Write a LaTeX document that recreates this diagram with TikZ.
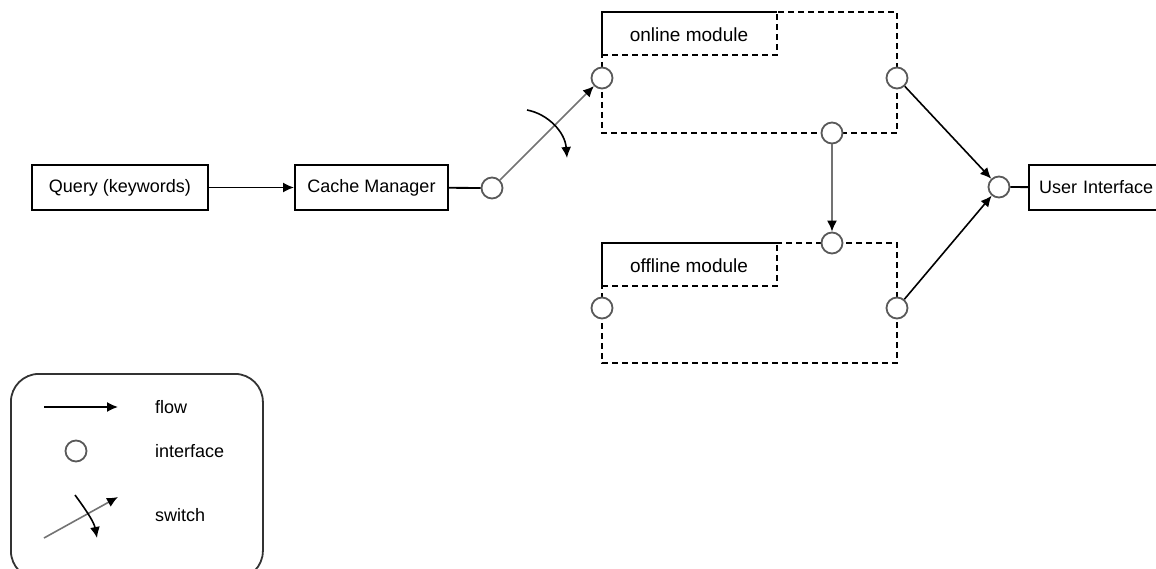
\documentclass[tikz,border=0pt]{standalone}
\usepackage{fontspec}
\setmainfont{Liberation Sans}
\usetikzlibrary{arrows.meta}

\begin{document}
\begin{tikzpicture}[x=1pt, y=-1pt,
  lbl/.style={font=\fontsize{18}{20}\selectfont},
  modlbl/.style={font=\fontsize{19}{21}\selectfont},
  box/.style={lbl, draw, line width=2pt, minimum height=45pt, inner sep=0pt},
  port/.style={circle, draw=black!65, fill=white, line width=1.8pt, minimum size=21pt, inner sep=0pt},
  flow/.style={-{Latex[length=11pt, width=10pt, color=black]}, line width=1.6pt},
  grayflow/.style={flow, draw=black!55},
  dashbox/.style={dash pattern=on 6pt off 4pt, line width=1.5pt},
  solidedge/.style={line width=1.8pt},
  legendtext/.style={lbl, anchor=west, inner sep=0pt}
]
\useasboundingbox (0,0) rectangle (1156,569);
\clip (0,0) rectangle (1156,569);

% main chain
\node[box, minimum width=176pt] (query) at (120,187.5) {Query (keywords)};
\node[box, minimum width=153pt] (cache) at (371.5,187.5) {Cache Manager};
\node[port] (cport) at (492,188) {};

% online module
\draw[dashbox] (602,12) rectangle (897,133);
\draw[dashbox] (602,55) -- (777,55) -- (777,12);
\draw[solidedge] (602,55) -- (602,12) -- (777,12);
\node[modlbl] (online) at (689,35) {online module};
\node[port] (onin) at (602,78) {};
\node[port] (onout) at (897,78) {};
\node[port] (ondown) at (832,133) {};

% offline module
\draw[dashbox] (602,243) rectangle (897,363);
\draw[dashbox] (602,286) -- (777,286) -- (777,243);
\draw[solidedge] (602,286) -- (602,243) -- (777,243);
\node[modlbl] (offline) at (689,266) {offline module};
\node[port] (offtop) at (832,243) {};
\node[port] (offin) at (602,308) {};
\node[port] (offout) at (897,308) {};

% user interface
\node[port] (uiport) at (999,187) {};
\node[box, anchor=west, minimum width=150pt, text width=130pt, align=left, inner xsep=10pt] (ui) at (1028,187.5) {User Interface};

% connectors
\draw[flow] (query) -- (cache);
\draw[line width=1.8pt] (cache) -- (cport);
\draw[grayflow] (cport) -- (onin);
\coordinate (swa) at (527,110);
\coordinate (swb) at (567,158);
\draw[flow] (swa) .. controls (548,114) and (565,132) .. (swb);
\draw[grayflow] (ondown) -- (offtop);
\draw[flow] (onout) -- (uiport);
\draw[flow] (offout) -- (uiport);
\draw[line width=1.8pt] (uiport) -- (ui);

% legend
\node[draw=black!80, line width=1.8pt, rounded corners=28pt, anchor=north west,
      minimum width=252pt, minimum height=205pt] (legend) at (10,373) {};
\coordinate (fa) at (44,407);
\coordinate (fb) at (118,407);
\draw[flow] (fa) -- (fb);
\node[legendtext] (tflow) at (155,407) {flow};
\node[port] (lport) at (76,451) {};
\node[legendtext] (tiface) at (155,451) {interface};
\coordinate (sa) at (44,538);
\coordinate (sb) at (118,497);
\draw[grayflow] (sa) -- (sb);
\coordinate (sc) at (75,495);
\coordinate (sd) at (97,538);
\draw[flow] (sc) .. controls (86,510) and (94,522) .. (sd);
\node[legendtext] (tswitch) at (155,515) {switch};
\end{tikzpicture}
\end{document}
